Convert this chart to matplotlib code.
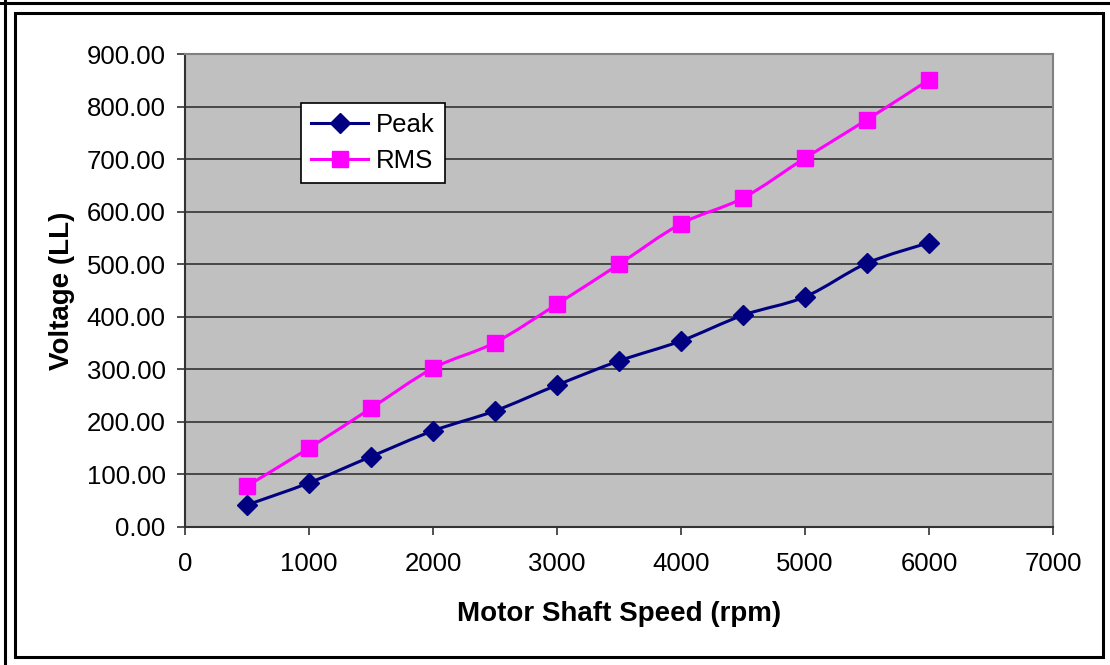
import matplotlib
matplotlib.use("Agg")
import matplotlib.pyplot as plt
from matplotlib.path import Path
from matplotlib.patches import PathPatch, Rectangle
from matplotlib.lines import Line2D

# data
speed_rpm = [500, 1000, 1500, 2000, 2500, 3000, 3500, 4000, 4500, 5000, 5500, 6000]
peak_v = [42, 84, 134, 183, 221, 270, 316, 354, 403, 438, 502, 541]
rms_v = [78, 150, 226, 302, 351, 424, 500, 577, 626, 702, 775, 851]
y_ticks = [0, 100, 200, 300, 400, 500, 600, 700, 800, 900]
x_ticks = [0, 1000, 2000, 3000, 4000, 5000, 6000, 7000]

plt.rcParams['font.family'] = ['Liberation Sans', 'DejaVu Sans']


def smooth_path(xs, ys):
    # excel style smoothed line: cubic bezier through every point
    verts = [(xs[0], ys[0])]
    codes = [Path.MOVETO]
    n = len(xs)
    for i in range(n - 1):
        x0, y0 = (xs[i - 1], ys[i - 1]) if i > 0 else (xs[i], ys[i])
        x1, y1 = xs[i], ys[i]
        x2, y2 = xs[i + 1], ys[i + 1]
        x3, y3 = (xs[i + 2], ys[i + 2]) if i + 2 < n else (x2, y2)
        c1 = (x1 + (x2 - x0) / 6.0, y1 + (y2 - y0) / 6.0)
        c2 = (x2 - (x3 - x1) / 6.0, y2 - (y3 - y1) / 6.0)
        verts += [c1, c2, (x2, y2)]
        codes += [Path.CURVE4] * 3
    return Path(verts, codes)


fig = plt.figure(figsize=(11.1, 6.65), dpi=100)
fig.patch.set_facecolor('white')

# chart frame + outer edge lines
fig.patches.append(Rectangle((15 / 1110, 1 - 657 / 665), (1103 - 15) / 1110, (657 - 13) / 665,
                             transform=fig.transFigure, fill=False, edgecolor='black', linewidth=2.2))
fig.add_artist(Line2D([0, 1], [1 - 3 / 665, 1 - 3 / 665], transform=fig.transFigure, color='black', linewidth=2.2))
fig.add_artist(Line2D([5 / 1110, 5 / 1110], [0, 1], transform=fig.transFigure, color='black', linewidth=2.2))

ax = fig.add_axes([185 / 1110, 1 - 527 / 665, 868 / 1110, 473 / 665])
ax.set_facecolor('#C0C0C0')
ax.set_xlim(0, 7000)
ax.set_ylim(0, 900)
ax.set_xticks(x_ticks)
ax.set_yticks(y_ticks)
ax.set_yticklabels(['%.2f' % v for v in y_ticks])
ax.yaxis.grid(True, color='#333333', linewidth=1.2)
ax.set_axisbelow(True)

for s in ['top', 'right']:
    ax.spines[s].set_color('#808080')
    ax.spines[s].set_linewidth(1.5)
for s in ['left', 'bottom']:
    ax.spines[s].set_color('#333333')
    ax.spines[s].set_linewidth(1.5)

ax.tick_params(axis='both', direction='out', length=6, width=1.2, color='#333333',
               labelsize=18.5, labelcolor='black')
ax.tick_params(axis='x', pad=12)
ax.tick_params(axis='y', pad=8)

ax.add_patch(PathPatch(smooth_path(speed_rpm, peak_v), fill=False, edgecolor='#000080', linewidth=2.2, zorder=3))
ax.add_patch(PathPatch(smooth_path(speed_rpm, rms_v), fill=False, edgecolor='#FF00FF', linewidth=2.2, zorder=3))
ax.plot(speed_rpm, peak_v, linestyle='none', marker='D', markersize=10, color='#000080', zorder=4)
ax.plot(speed_rpm, rms_v, linestyle='none', marker='s', markersize=11, color='#FF00FF', zorder=4)

ax.set_xlabel('Motor Shaft Speed (rpm)', fontsize=20, fontweight='bold', labelpad=18)
ax.set_ylabel('Voltage (LL)', fontsize=20, fontweight='bold', labelpad=8)

handles = [Line2D([], [], color='#000080', linewidth=2.2, marker='D', markersize=10),
           Line2D([], [], color='#FF00FF', linewidth=2.2, marker='s', markersize=11)]
leg = ax.legend(handles, ['Peak', 'RMS'], loc='upper left',
                bbox_to_anchor=(301 / 1110, 1 - 103 / 665), bbox_transform=fig.transFigure,
                borderaxespad=0, fancybox=False, framealpha=1, edgecolor='black',
                fontsize=18.5, handlelength=2.2, handletextpad=0.3, labelspacing=0.45,
                borderpad=0.4)
leg.get_frame().set_linewidth(1.2)

fig.savefig('out.png', dpi=100)
